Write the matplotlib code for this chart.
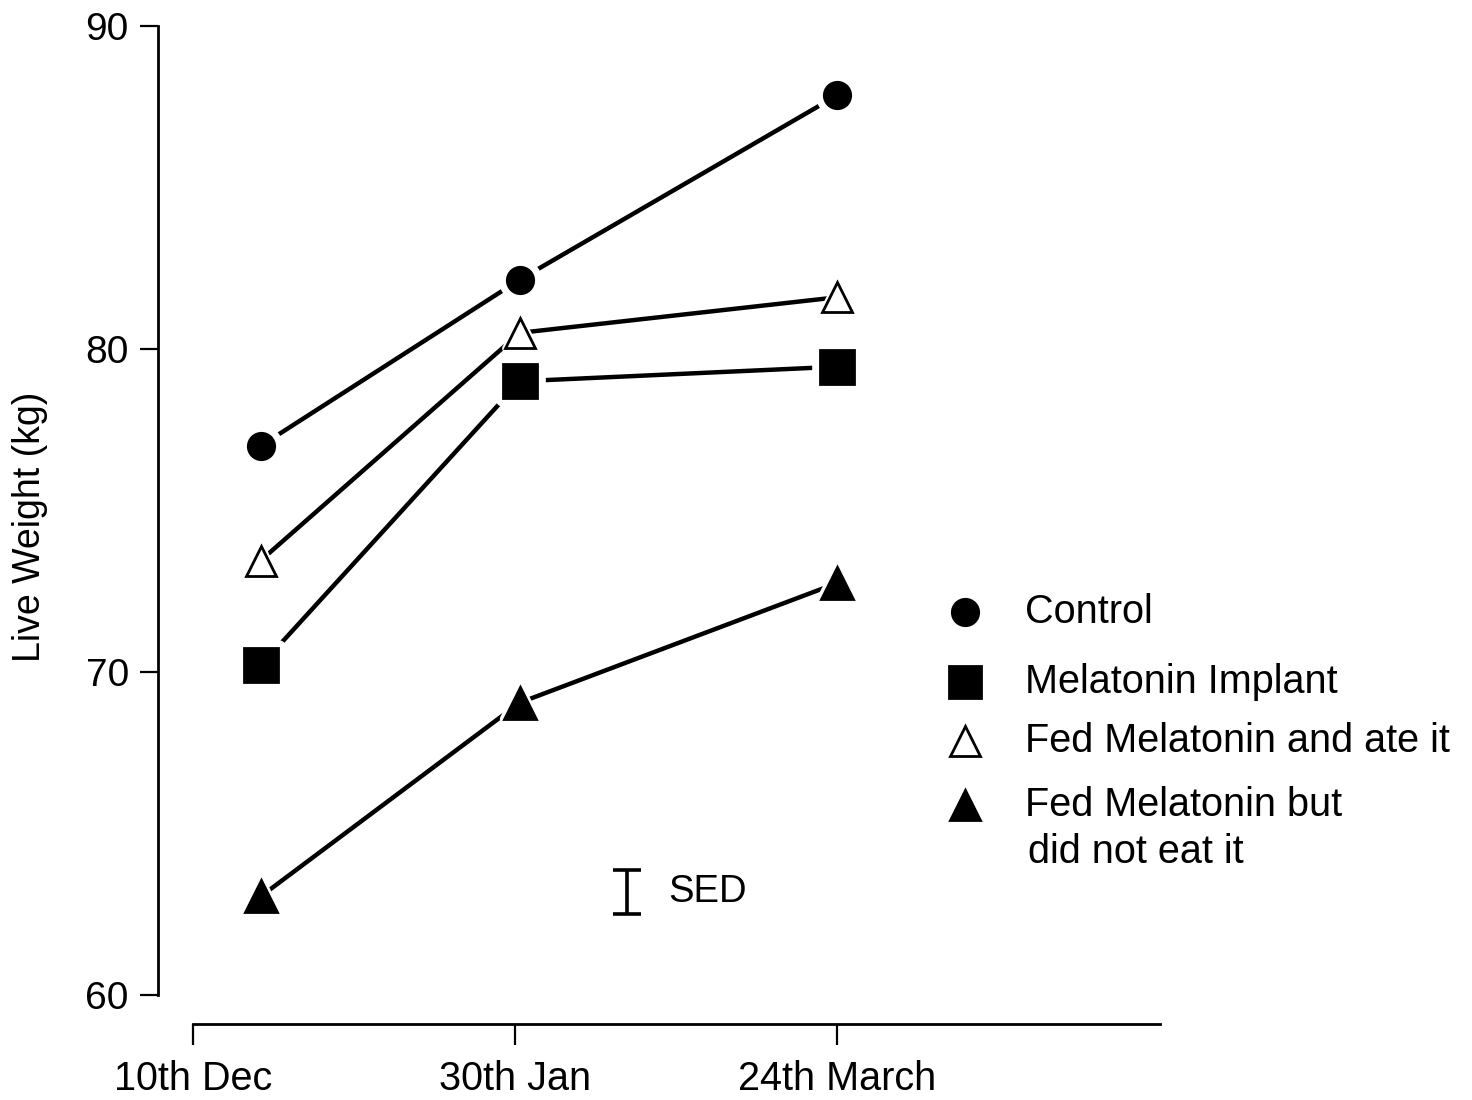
import numpy as np
import matplotlib
matplotlib.use('Agg')
import matplotlib.pyplot as plt
from matplotlib.markers import MarkerStyle

plt.rcParams['font.family'] = ['Liberation Sans', 'DejaVu Sans']

# sampling dates (x positions of the three weighings)
dates = ['10th Dec', '30th Jan', '24th March']
x_pts = [0.21, 1.015, 2.0]

control = [77.0, 82.15, 87.85]
implant = [70.2, 79.0, 79.45]
fed_ate = [73.45, 80.5, 81.6]
fed_not_ate = [63.05, 69.05, 72.75]

sed_x = 1.347
sed_y = 63.19
sed_err = 0.68

fig = plt.figure(figsize=(14.72, 11), dpi=100)
ax = fig.add_axes([158 / 1472, 1 - 1024 / 1100, (1160 - 158) / 1472, (1024 - 26) / 1100])
ax.set_xlim(-0.109, 3.003)
ax.set_ylim(59.1, 90)

lw = 3.2
series = [
    (control, 'o', 19, 'black', 12),
    (fed_ate, '^', 22, 'white', 5),
    (implant, 's', 24, 'black', 12),
    (fed_not_ate, '^', 23, 'black', 6),
]
for vals, mk, ms, fc, gap in series:
    ax.plot(x_pts, vals, color='black', lw=lw, zorder=2, clip_on=False)
    # white halo so the line stops short of each marker
    halo = MarkerStyle(mk, joinstyle='round')
    ax.plot(x_pts, vals, ls='none', marker=halo, ms=ms, mfc='white', mec='white',
            mew=gap, zorder=3, clip_on=False)
    ax.plot(x_pts, vals, ls='none', marker=mk, ms=ms, mfc=fc, mec='black',
            mew=2, zorder=4, clip_on=False)

# SED bar
ax.errorbar([sed_x], [sed_y], yerr=[sed_err], fmt='none', ecolor='black',
            elinewidth=2.6, capsize=10, capthick=2.6)
ax.text(sed_x + 0.128, sed_y, 'SED', fontsize=27.5, va='center', ha='left')

# axes styling
for s in ['top', 'right']:
    ax.spines[s].set_visible(False)
ax.spines['left'].set_bounds(60, 90)
ax.spines['bottom'].set_bounds(0, 3.003)
ax.spines['left'].set_linewidth(2)
ax.spines['bottom'].set_linewidth(2)
ax.set_yticks([60, 70, 80, 90])
ax.set_xticks([0, 1, 2])
ax.set_xticklabels(dates)
ax.tick_params(axis='y', length=13, width=1.6, labelsize=28, pad=8, direction='out')
ax.tick_params(axis='x', length=15, width=1.6, labelsize=28.5, pad=11, direction='out')

fig.text(30 / 1472, 0.521, 'Live Weight (kg)', rotation=90, fontsize=27,
         va='center', ha='center')

# legend
leg_items = [
    ('o', 19, 'black', 'Control', 1 - 612 / 1100),
    ('s', 23, 'black', 'Melatonin Implant', 1 - 682 / 1100),
    ('^', 21, 'white', 'Fed Melatonin and ate it', 1 - 741 / 1100),
    ('^', 22, 'black', 'Fed Melatonin but', 1 - 805 / 1100),
]
for mk, ms, fc, label, y in leg_items:
    ax.plot([965 / 1472], [y], ls='none', marker=mk, ms=ms, mfc=fc, mec='black',
            mew=2, transform=fig.transFigure, clip_on=False)
    fig.text(1025 / 1472, y, label, fontsize=28.5, va='center', ha='left')
fig.text(1028 / 1472, 1 - 852 / 1100, 'did not eat it', fontsize=28.5,
         va='center', ha='left')

fig.savefig('out.png', dpi=100)
